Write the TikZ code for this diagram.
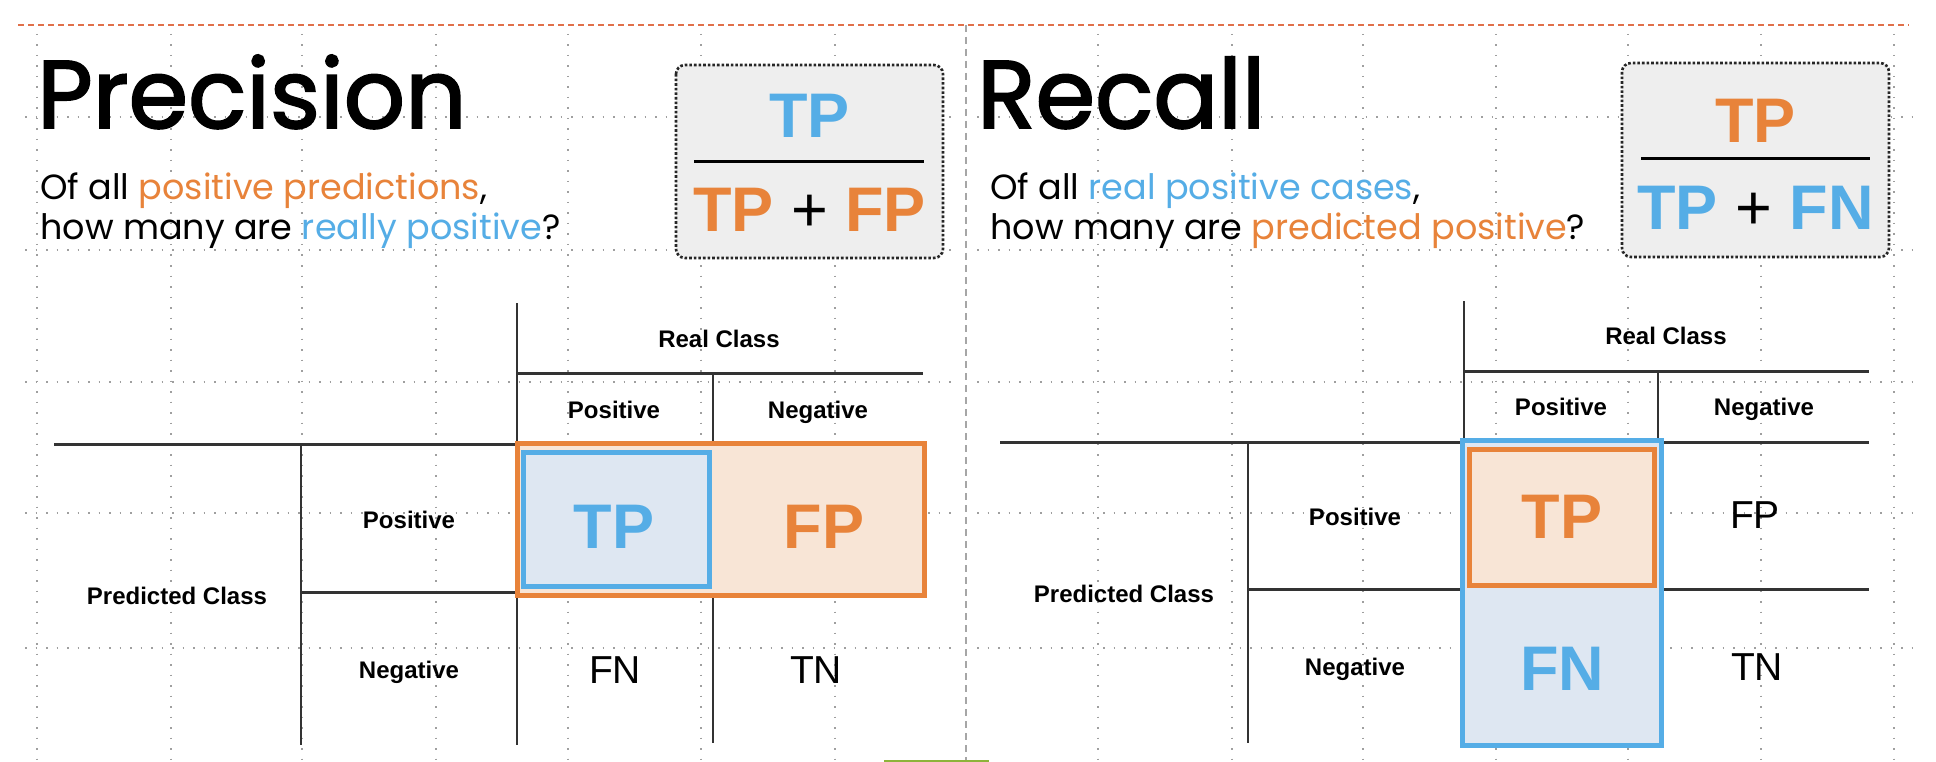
\documentclass[tikz,border=0pt]{standalone}
\usepackage{fontspec}
\setmainfont{Liberation Sans}
\newfontfamily\handfont{Poppins}
\newfontfamily\titlefont{Poppins}[FakeBold=2]
\usepackage{xcolor}
\definecolor{cblue}{HTML}{55ADE6}
\definecolor{corange}{HTML}{E8833A}
\definecolor{cbluefill}{HTML}{DEE7F2}
\definecolor{corangefill}{HTML}{F8E5D6}
\definecolor{cboxfill}{HTML}{EEEEEE}
\definecolor{cred}{HTML}{E0704A}
\definecolor{cgreen}{HTML}{8DB33A}
\usepackage{tikz}

\tikzset{
    griddot/.style={gray!75, line width=1.3pt, dash pattern=on 1.5pt off 9pt},
    hline/.style={black!80, line width=3pt},
    vline/.style={black!80, line width=2pt},
    lab/.style={anchor=base, inner sep=0pt, font=\fontsize{24}{26}\selectfont\bfseries},
    big/.style={anchor=base, inner sep=0pt, font=\fontsize{63}{66}\selectfont\bfseries},
    plain/.style={anchor=base, inner sep=0pt, font=\fontsize{39}{42}\selectfont},
    headline/.style={anchor=base west, inner sep=0pt, font=\titlefont\fontsize{96}{100}\selectfont},
    question/.style={anchor=base west, inner sep=0pt, font=\handfont\fontsize{35}{37}\selectfont},
    fracbox/.style={draw=black!85, fill=cboxfill, line width=2.6pt, dash pattern=on 2.6pt off 2pt, rounded corners=9pt},
}

\begin{document}
\begin{tikzpicture}[x=1pt, y=-1pt]
        \useasboundingbox[fill=white] (0, 0) rectangle (1936, 762);

        % dotted grid
        \foreach \gx in {37, 171, 302, 436, 568, 701, 835, 1098, 1232, 1363, 1496, 1628, 1761, 1894}
            \draw[griddot] (\gx, 34) -- (\gx, 762);
        \foreach \gy in {117, 250, 382, 513, 648} {
            \draw[griddot] (25, \gy) -- (957, \gy);
            \draw[griddot] (977, \gy) -- (1915, \gy);
        }

        % frame lines
        \draw[cred, line width=1.5pt, dash pattern=on 6pt off 4pt] (18, 25) -- (1909, 25);
        \draw[gray!70, line width=1.5pt, dash pattern=on 7pt off 5pt] (966, 25) -- (966, 762);
        \draw[cgreen, line width=2pt] (884, 761) -- (989, 761);

        % ---- precision ----
        \node[headline] (ptitle) at (37, 128) {Precision};
        \node[question] (psub1) at (40, 200) {Of all \textcolor{corange}{positive predictions},};
        \node[question] (psub2) at (40, 240) {how many are \textcolor{cblue}{really positive}?};

        \draw[fracbox] (676, 65) rectangle (943, 258);
        \node[big, text=cblue] (pnum) at (809.5, 138) {TP};
        \draw[line width=3pt] (694, 162) -- (924, 162);
        \node[big] (pden) at (809.5, 232) {\textcolor{corange}{TP} {\mdseries+} \textcolor{corange}{FP}};

        % table
        \draw[vline] (517, 303) -- (517, 745);
        \draw[hline] (517, 373) -- (923, 373);
        \draw[vline] (713, 373) -- (713, 743);
        \draw[hline] (54, 444) -- (924, 444);
        \draw[vline] (301, 444) -- (301, 745);
        \draw[hline] (301, 592) -- (924, 592);

        \draw[corange, fill=corangefill, line width=5pt] (517, 443) rectangle (924, 595);
        \draw[cblue, fill=cbluefill, line width=5pt] (523, 452) rectangle (709, 586);

        \node[lab] (preal) at (719, 347) {Real Class};
        \node[lab] (pcolpos) at (614, 418) {Positive};
        \node[lab] (pcolneg) at (818, 418) {Negative};
        \node[lab] (ppred) at (177, 604) {Predicted Class};
        \node[lab] (prowpos) at (409, 528) {Positive};
        \node[lab] (prowneg) at (409, 678) {Negative};

        \node[big, text=cblue] (ptp) at (614, 548) {TP};
        \node[big, text=corange] (pfp) at (824, 548) {FP};
        \node[plain] (pfn) at (615, 683) {FN};
        \node[plain] (ptn) at (816, 683) {TN};

        % ---- recall ----
        \node[headline] (rtitle) at (977, 128) {Recall};
        \node[question] (rsub1) at (990, 200) {Of all \textcolor{cblue}{real positive cases},};
        \node[question] (rsub2) at (990, 240) {how many are \textcolor{corange}{predicted positive}?};

        \draw[fracbox] (1622, 63) rectangle (1889, 257);
        \node[big, text=corange] (rnum) at (1755.5, 143) {TP};
        \draw[line width=3pt] (1641, 159) -- (1870, 159);
        \node[big] (rden) at (1755.5, 230) {\textcolor{cblue}{TP} {\mdseries+} \textcolor{cblue}{FN}};

        % table
        \draw[vline] (1464, 301) -- (1464, 745);
        \draw[hline] (1464, 371) -- (1869, 371);
        \draw[vline] (1658, 371) -- (1658, 743);
        \draw[hline] (1000, 442) -- (1869, 442);
        \draw[vline] (1248, 442) -- (1248, 743);
        \draw[hline] (1248, 589) -- (1869, 589);

        \draw[cblue, fill=cbluefill, line width=5pt] (1462, 440) rectangle (1661, 745);
        \draw[corange, fill=corangefill, line width=5pt] (1469, 449) rectangle (1654, 585);

        \node[lab] (rreal) at (1666, 344) {Real Class};
        \node[lab] (rcolpos) at (1561, 415) {Positive};
        \node[lab] (rcolneg) at (1764, 415) {Negative};
        \node[lab] (rpred) at (1124, 602) {Predicted Class};
        \node[lab] (rrowpos) at (1355, 525) {Positive};
        \node[lab] (rrowneg) at (1355, 675) {Negative};

        \node[big, text=corange] (rtp) at (1562, 538) {TP};
        \node[plain] (rfp) at (1755, 528) {FP};
        \node[big, text=cblue] (rfn) at (1562, 690) {FN};
        \node[plain] (rtn) at (1757, 680) {TN};
    \end{tikzpicture}
\end{document}
